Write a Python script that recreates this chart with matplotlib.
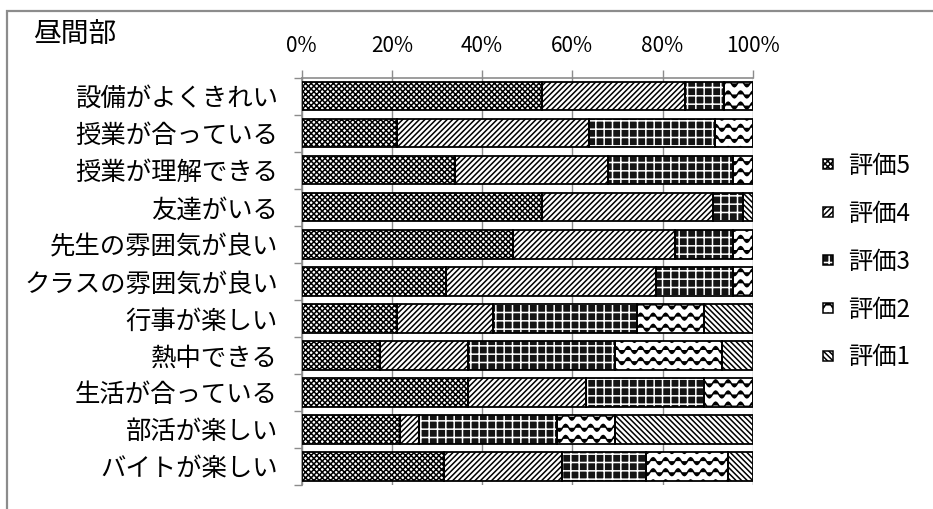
import warnings
warnings.filterwarnings('ignore')
import numpy as np
import matplotlib
matplotlib.use('Agg')
import matplotlib.pyplot as plt
import matplotlib.hatch as mhatch
from matplotlib.path import Path
from matplotlib.patches import Patch, Rectangle
from matplotlib.legend_handler import HandlerTuple
from matplotlib.ticker import FixedLocator, FuncFormatter

# ---- data ----
title = '昼間部'
categories = ['設備がよくきれい', '授業が合っている', '授業が理解できる', '友達がいる',
              '先生の雰囲気が良い', 'クラスの雰囲気が良い', '行事が楽しい', '熱中できる',
              '生活が合っている', '部活が楽しい', 'バイトが楽しい']
series_names = ['評価5', '評価4', '評価3', '評価2', '評価1']
rating5 = [53.2, 21.2, 34.1, 53.2, 46.8, 32.0, 21.2, 17.4, 36.9, 21.8, 31.6]
rating4 = [31.8, 42.4, 33.9, 38.1, 36.0, 46.6, 21.2, 19.4, 26.1, 4.2, 26.2]
rating3 = [8.6, 28.0, 27.7, 6.6, 12.9, 17.1, 32.0, 32.7, 26.2, 30.5, 18.5]
rating2 = [6.4, 8.4, 4.3, 0.0, 4.3, 4.3, 14.8, 23.8, 10.8, 13.0, 18.3]
rating1 = [0.0, 0.0, 0.0, 2.1, 0.0, 0.0, 10.8, 6.7, 0.0, 30.5, 5.4]
x_ticks = [0, 20, 40, 60, 80, 100]


# ---- custom wavy hatch ('~') ----
class WaveHatch(mhatch.HatchPatternBase):
    def __init__(self, hatch, density):
        self.num_rows = int(hatch.count('~') * density * 0.75)
        self.samples = 97
        self.num_vertices = self.num_rows * self.samples

    def set_vertices_and_codes(self, vertices, codes):
        xs = np.linspace(0, 1, self.samples)
        for i in range(self.num_rows):
            y0 = (i + 0.5) / self.num_rows
            ys = y0 + 0.034 * np.sin(2 * np.pi * 8 * xs)
            sl = slice(i * self.samples, (i + 1) * self.samples)
            vertices[sl, 0] = xs
            vertices[sl, 1] = ys
            codes[sl] = Path.LINETO
            codes[i * self.samples] = Path.MOVETO


mhatch._hatch_types.append(WaveHatch)

plt.rcParams['font.family'] = ['Noto Sans CJK JP', 'DejaVu Sans']
plt.rcParams['hatch.linewidth'] = 1.1

styles = [  # facecolor, hatch, hatch colour
    ('#ffffff', 'xxxxxx', '#000000'),
    ('#ffffff', '//////', '#000000'),
    ('#141414', '++', '#ffffff'),
    ('#ffffff', '~~', '#000000'),
    ('#ffffff', '\\' * 6, '#000000'),
]

W, H = 933, 509
fig = plt.figure(figsize=(W / 100, H / 100), dpi=100)
ax = fig.add_axes([301.7 / W, 1 - 485 / H, 451 / W, (485 - 77.7) / H])

series = [rating5, rating4, rating3, rating2, rating1]
y = np.arange(len(categories))
left = np.zeros(len(categories))
bar_h = 0.767
handles = []
for name, vals, (fc, hatch, hc) in zip(series_names, series, styles):
    vals = np.array(vals)
    ax.barh(y, vals, left=left, height=bar_h, color=fc, hatch=hatch,
            edgecolor=hc, linewidth=0, zorder=2)
    ax.barh(y, vals, left=left, height=bar_h, facecolor='none',
            edgecolor='black', linewidth=1.3, zorder=3)
    left = left + vals
    handles.append((Patch(facecolor=fc, hatch=hatch, edgecolor=hc, linewidth=0),
                    Patch(facecolor='none', edgecolor='black', linewidth=1.1)))

ax.set_xlim(0, 100)
ax.set_ylim(len(categories) - 0.5, -0.5)

# x axis on top
ax.xaxis.tick_top()
ax.set_xticks(x_ticks)
ax.xaxis.set_major_formatter(FuncFormatter(lambda v, p: f'{v:.0f}%'))
ax.tick_params(axis='x', which='major', direction='out', length=5.8, width=1.0,
               color='#8c8c8c', pad=9, labelsize=15, top=True, bottom=False)
ax.grid(axis='x', color='#8c8c8c', linewidth=1.0, zorder=0)
ax.set_axisbelow(True)

# y axis
ax.set_yticks(y)
ax.set_yticklabels(categories, fontsize=18.3)
ax.tick_params(axis='y', which='major', length=0, pad=17)
ax.yaxis.set_minor_locator(FixedLocator(np.arange(len(categories) + 1) - 0.5))
ax.tick_params(axis='y', which='minor', direction='out', length=5.8, width=1.0,
               color='#8c8c8c')

for s in ['right', 'bottom']:
    ax.spines[s].set_visible(False)
for s in ['top', 'left']:
    ax.spines[s].set_color('#8c8c8c')
    ax.spines[s].set_linewidth(1.2)

# legend
leg = ax.legend(handles, series_names, handler_map={tuple: HandlerTuple(ndivide=1, pad=0)},
                loc='upper left', bbox_to_anchor=(823 / W, 1 - 153 / H),
                bbox_transform=fig.transFigure, frameon=False, fontsize=17.5,
                handlelength=0.42, handleheight=0.26, handletextpad=0.6,
                labelspacing=0.9, borderpad=0, borderaxespad=0)

# title
fig.text(33 / W, 1 - 35 / H, title, fontsize=20, ha='left', va='center')

# outer chart border
fig.add_artist(Rectangle((6.5 / W, -0.1), 1.2, 1 - 10.5 / H + 0.1,
                         transform=fig.transFigure, facecolor='none',
                         edgecolor='#8c8c8c', linewidth=1.6))

fig.savefig('out.png', dpi=100)
